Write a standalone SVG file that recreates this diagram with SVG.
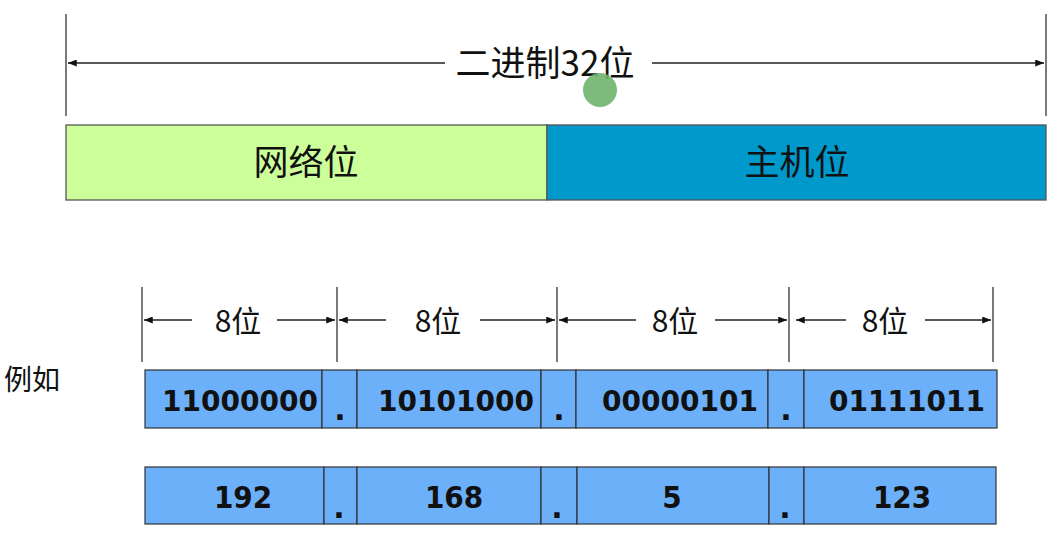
<svg xmlns="http://www.w3.org/2000/svg" width="1051" height="547" viewBox="0 0 1051 547">
<style>
.ln{stroke:#222;stroke-width:1.3;fill:none}
.tick{stroke:#333;stroke-width:1.3}
.cjk{font-family:"Noto Sans CJK SC","Noto Sans",sans-serif;fill:#111}
.cell{fill:#6cb0fa;stroke:#333;stroke-width:1.2}
.bin{font-family:"DejaVu Sans",sans-serif;font-weight:bold;font-size:28px;fill:#111;text-anchor:middle}
.dec{font-family:"DejaVu Sans Condensed","DejaVu Sans",sans-serif;font-weight:bold;font-size:31px;fill:#111;text-anchor:middle}
.dot{font-family:"DejaVu Sans",sans-serif;font-weight:bold;font-size:30px;fill:#111;text-anchor:middle}
</style>
<defs>
<marker id="ah" viewBox="0 0 10 8" refX="10" refY="4" markerWidth="9" markerHeight="7" markerUnits="userSpaceOnUse" orient="auto-start-reverse">
<path d="M0,0 L10,4 L0,8 z" fill="#111"/>
</marker>
</defs>
<g id="connectors">
<line class="tick" x1="66" y1="14" x2="66" y2="116"/>
<line class="tick" x1="1046" y1="14" x2="1046" y2="116"/>
<line class="ln" x1="445" y1="63" x2="68" y2="63" marker-end="url(#ah)"/>
<line class="ln" x1="652" y1="63" x2="1044" y2="63" marker-end="url(#ah)"/>
<line class="tick" x1="142" y1="287" x2="142" y2="362"/>
<line class="tick" x1="337" y1="287" x2="337" y2="362"/>
<line class="tick" x1="557" y1="287" x2="557" y2="362"/>
<line class="tick" x1="789" y1="287" x2="789" y2="362"/>
<line class="tick" x1="993" y1="287" x2="993" y2="362"/>
<line class="ln" x1="192" y1="320" x2="144" y2="320" marker-end="url(#ah)"/>
<line class="ln" x1="277" y1="320" x2="335" y2="320" marker-end="url(#ah)"/>
<line class="ln" x1="386" y1="320" x2="339" y2="320" marker-end="url(#ah)"/>
<line class="ln" x1="480" y1="320" x2="555" y2="320" marker-end="url(#ah)"/>
<line class="ln" x1="636" y1="320" x2="559" y2="320" marker-end="url(#ah)"/>
<line class="ln" x1="715" y1="320" x2="787" y2="320" marker-end="url(#ah)"/>
<line class="ln" x1="846" y1="320" x2="796" y2="320" marker-end="url(#ah)"/>
<line class="ln" x1="925" y1="320" x2="991" y2="320" marker-end="url(#ah)"/>
</g>
<g id="title"><text class="cjk" x="545" y="76" font-size="35" text-anchor="middle">二进制32位</text></g>
<circle cx="600" cy="90" r="17" fill="#6fb46f" opacity="0.9"/>
<g id="net"><rect x="66" y="125" width="481" height="75" fill="#ccff99" stroke="#555" stroke-width="1.3"/>
<text class="cjk" x="306" y="175" font-size="35" text-anchor="middle">网络位</text></g>
<g id="host"><rect x="547" y="125" width="499" height="75" fill="#0099cc" stroke="#555" stroke-width="1.3"/>
<text class="cjk" x="797" y="175" font-size="35" text-anchor="middle">主机位</text></g>
<g id="labels8">
<text class="cjk" x="238" y="332" font-size="30" text-anchor="middle">8位</text>
<text class="cjk" x="438" y="332" font-size="30" text-anchor="middle">8位</text>
<text class="cjk" x="675" y="332" font-size="30" text-anchor="middle">8位</text>
<text class="cjk" x="885" y="332" font-size="30" text-anchor="middle">8位</text>
</g>
<g id="example"><text class="cjk" x="4" y="390" font-size="28">例如</text></g>
<g id="binary">
<rect class="cell" x="145" y="370" width="177" height="58"/>
<rect class="cell" x="322" y="370" width="35" height="58"/>
<rect class="cell" x="357" y="370" width="184" height="58"/>
<rect class="cell" x="541" y="370" width="35" height="58"/>
<rect class="cell" x="576" y="370" width="192" height="58"/>
<rect class="cell" x="768" y="370" width="36" height="58"/>
<rect class="cell" x="804" y="370" width="193" height="58"/>
<text class="bin" x="240" y="411">11000000</text>
<text class="dot" x="340" y="420">.</text>
<text class="bin" x="456" y="411">10101000</text>
<text class="dot" x="559" y="420">.</text>
<text class="bin" x="680" y="411">00000101</text>
<text class="dot" x="786" y="420">.</text>
<text class="bin" x="907" y="411">01111011</text>
</g>
<g id="decimal">
<rect class="cell" x="145" y="467" width="179" height="57"/>
<rect class="cell" x="324" y="467" width="33" height="57"/>
<rect class="cell" x="357" y="467" width="184" height="57"/>
<rect class="cell" x="541" y="467" width="36" height="57"/>
<rect class="cell" x="577" y="467" width="192" height="57"/>
<rect class="cell" x="769" y="467" width="35" height="57"/>
<rect class="cell" x="804" y="467" width="192" height="57"/>
<text class="dec" x="243" y="508">192</text>
<text class="dot" x="339" y="518">.</text>
<text class="dec" x="454" y="508">168</text>
<text class="dot" x="557" y="518">.</text>
<text class="dec" x="672" y="508">5</text>
<text class="dot" x="785" y="518">.</text>
<text class="dec" x="902" y="508">123</text>
</g>
</svg>
